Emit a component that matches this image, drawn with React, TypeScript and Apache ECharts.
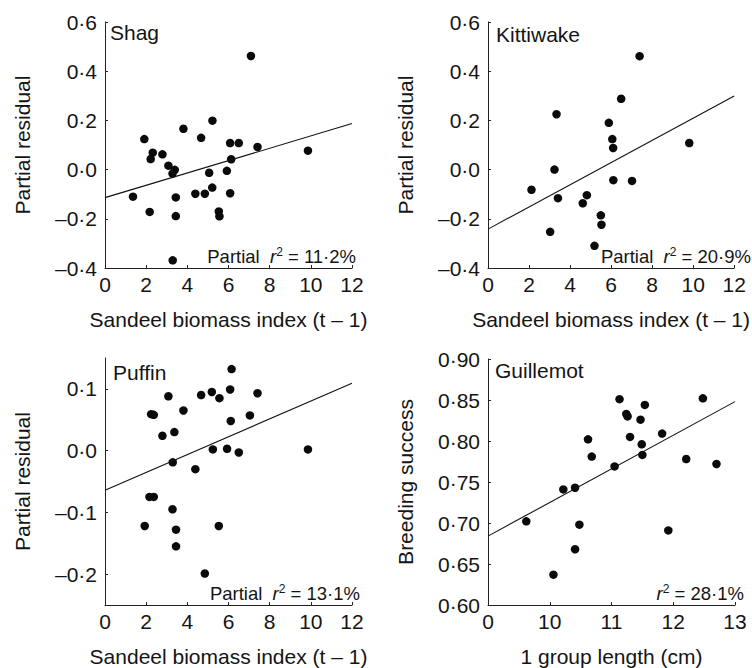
import React, { useEffect, useRef } from "react";
import * as echarts from "echarts";

const FONT = '"Liberation Sans", Arial, Helvetica, sans-serif';
const INK = "#141414";

// Shag
const shagX = [7.09, 5.22, 3.81, 4.67, 1.91, 6.08, 6.5, 7.41, 9.86, 2.32, 2.22, 2.79, 6.13, 3.08, 3.39, 3.28, 5.06, 5.92, 5.21, 4.39, 4.85, 6.08, 1.36, 3.44, 2.17, 5.53, 5.56, 3.44, 3.29];
const shagY = [0.462, 0.199, 0.166, 0.129, 0.124, 0.108, 0.108, 0.092, 0.077, 0.069, 0.043, 0.062, 0.042, 0.016, -0.001, -0.016, -0.013, -0.005, -0.073, -0.098, -0.098, -0.096, -0.11, -0.113, -0.172, -0.17, -0.19, -0.189, -0.369];
const shagFit = [[0, -0.114], [12, 0.187]];

// Kittiwake
const kittiX = [7.39, 6.49, 3.34, 5.89, 6.06, 6.1, 9.81, 3.24, 6.11, 7.02, 2.12, 4.82, 3.41, 4.62, 5.5, 5.53, 3.03, 5.19];
const kittiY = [0.461, 0.288, 0.225, 0.19, 0.124, 0.088, 0.108, 0.0, -0.043, -0.046, -0.082, -0.104, -0.116, -0.137, -0.186, -0.224, -0.253, -0.31];
const kittiFit = [[0, -0.242], [12, 0.299]];

// Puffin
const puffinX = [6.15, 3.08, 5.19, 4.67, 5.56, 6.08, 7.41, 2.24, 2.37, 3.81, 7.04, 6.11, 2.79, 3.37, 5.24, 5.93, 6.5, 9.86, 3.29, 4.39, 2.16, 2.37, 3.28, 1.93, 5.53, 3.45, 3.45, 4.85];
const puffinY = [0.132, 0.088, 0.095, 0.09, 0.085, 0.099, 0.093, 0.059, 0.058, 0.065, 0.057, 0.048, 0.024, 0.03, 0.002, 0.003, -0.003, 0.002, -0.019, -0.03, -0.075, -0.075, -0.095, -0.122, -0.122, -0.128, -0.155, -0.199];
const puffinFit = [[0, -0.064], [12, 0.109]];

// Guillemot
const guilX = [11.13, 12.48, 11.54, 11.24, 11.26, 11.47, 11.3, 11.82, 11.49, 10.62, 10.68, 11.5, 11.05, 12.21, 12.7, 10.22, 10.41, 9.62, 10.48, 11.92, 10.41, 10.06];
const guilY = [0.851, 0.852, 0.844, 0.833, 0.83, 0.826, 0.805, 0.809, 0.796, 0.802, 0.781, 0.783, 0.769, 0.778, 0.772, 0.741, 0.743, 0.702, 0.698, 0.691, 0.668, 0.637];
const guilFit = [[9, 0.684], [13, 0.848]];

const panelNames = ["Shag", "Kittiwake", "Puffin", "Guillemot"];
const r2Prefix = ["Partial  ", "Partial  ", "Partial  ", ""];
const r2Values = ["11·2%", "20·9%", "13·1%", "28·1%"];
const puffinTicks = [-0.2, -0.1, 0, 0.1];

const zip = (xs: number[], ys: number[]) => xs.map((x, i) => [x, ys[i]]);

const fmt = (d: number) => (v: number) => {
  const val = Math.abs(v) < 1e-9 ? 0 : v;
  return val.toFixed(d).replace(".", "·").replace("-", "–");
};

const grids = [
  { left: 105, top: 22, width: 247, height: 246 },
  { left: 488, top: 22, width: 247, height: 246 },
  { left: 105, top: 358, width: 247, height: 247 },
  { left: 488, top: 359, width: 247, height: 246 },
];

const axisLineStyle = { onZero: false, lineStyle: { color: "#222", width: 1 } };
const tickStyle = { show: true, inside: true, length: 3, lineStyle: { color: "#222", width: 1 } };
const labelStyle = { color: INK, fontSize: 21, fontFamily: FONT };
const nameStyle = { color: INK, fontSize: 21, fontFamily: FONT };

export default function App() {
  const ref = useRef<HTMLDivElement>(null);
  useEffect(() => {
    if (!ref.current) return;
    const chart = echarts.init(ref.current, null, { renderer: "svg" });

    const xAxis: any[] = [0, 1, 2, 3].map((i) => {
      const isG = i === 3;
      return {
        type: "value",
        gridIndex: i,
        min: isG ? 9 : 0,
        max: isG ? 13 : 12,
        interval: isG ? 1 : 2,
        splitLine: { show: false },
        axisLine: axisLineStyle,
        axisTick: tickStyle,
        axisLabel: {
          ...labelStyle,
          margin: 6,
          formatter: isG ? (v: number) => (v === 9 ? "0" : String(v)) : (v: number) => String(v),
        },
        name: isG ? "1 group length (cm)" : "Sandeel biomass index (t – 1)",
        nameLocation: "middle",
        nameGap: 41,
        nameTextStyle: nameStyle,
      };
    });

    const yAxis: any[] = [
      { min: -0.4, max: 0.6, interval: 0.2, formatter: fmt(1), name: "Partial residual" },
      { min: -0.4, max: 0.6, interval: 0.2, formatter: fmt(1), name: "Partial residual" },
      { min: -0.25, max: 0.15, custom: puffinTicks, formatter: fmt(1), name: "Partial residual" },
      { min: 0.6, max: 0.9, interval: 0.05, formatter: fmt(2), name: "Breeding success" },
    ].map((a, i) => ({
      type: "value",
      gridIndex: i,
      min: a.min,
      max: a.max,
      ...(a.interval ? { interval: a.interval } : {}),
      splitLine: { show: false },
      axisLine: axisLineStyle,
      axisTick: a.custom ? { ...tickStyle, customValues: a.custom } : tickStyle,
      axisLabel: {
        ...labelStyle,
        margin: 8,
        formatter: a.formatter,
        ...(a.custom ? { customValues: a.custom } : {}),
      },
      name: a.name,
      nameLocation: "middle",
      nameGap: 72,
      nameTextStyle: nameStyle,
    }));

    const pts = [zip(shagX, shagY), zip(kittiX, kittiY), zip(puffinX, puffinY), zip(guilX, guilY)];
    const fits = [shagFit, kittiFit, puffinFit, guilFit];

    const series: any[] = [];
    for (let i = 0; i < 4; i++) {
      series.push({
        type: "line",
        xAxisIndex: i,
        yAxisIndex: i,
        data: fits[i],
        symbol: "none",
        lineStyle: { color: "#111", width: 1.1 },
        silent: true,
      });
      series.push({
        type: "scatter",
        xAxisIndex: i,
        yAxisIndex: i,
        data: pts[i],
        symbol: "circle",
        symbolSize: 8.5,
        itemStyle: { color: "#0a0a0a", opacity: 1 },
      });
    }

    const nameLabelPos = [
      [110, 22],
      [496, 24],
      [113, 362],
      [495, 360],
    ];
    const r2Pos = [
      [356, 266],
      [751, 266],
      [360, 603],
      [744, 603],
    ];

    const graphic: any[] = [];
    for (let i = 0; i < 4; i++) {
      graphic.push({
        type: "text",
        left: nameLabelPos[i][0],
        top: nameLabelPos[i][1],
        style: { text: panelNames[i], fill: INK, font: `21px ${FONT}` },
      });
      const pre = r2Prefix[i] ? `{a|${r2Prefix[i]}}` : "";
      graphic.push({
        type: "text",
        x: r2Pos[i][0],
        y: r2Pos[i][1],
        style: {
          text: `${pre}{r|r}{s|2}{a| = ${r2Values[i]}}`,
          align: "right",
          verticalAlign: "bottom",
          rich: {
            a: { fontSize: 18.5, fontFamily: FONT, fill: INK, color: INK, lineHeight: 20, verticalAlign: "bottom" },
            r: { fontSize: 18.5, fontFamily: FONT, fontStyle: "italic", fill: INK, color: INK, lineHeight: 20, verticalAlign: "bottom" },
            s: { fontSize: 12, fontFamily: FONT, fill: INK, color: INK, lineHeight: 20, verticalAlign: "top" },
          },
        },
      });
    }

    chart.setOption({
      animation: false,
      backgroundColor: "#fff",
      grid: grids,
      xAxis,
      yAxis,
      series,
      graphic,
    });
    return () => chart.dispose();
  }, []);

  return (
    <div
      ref={ref}
      style={{ position: "fixed", left: 0, top: 0, width: 752, height: 668, background: "#fff" }}
    />
  );
}
